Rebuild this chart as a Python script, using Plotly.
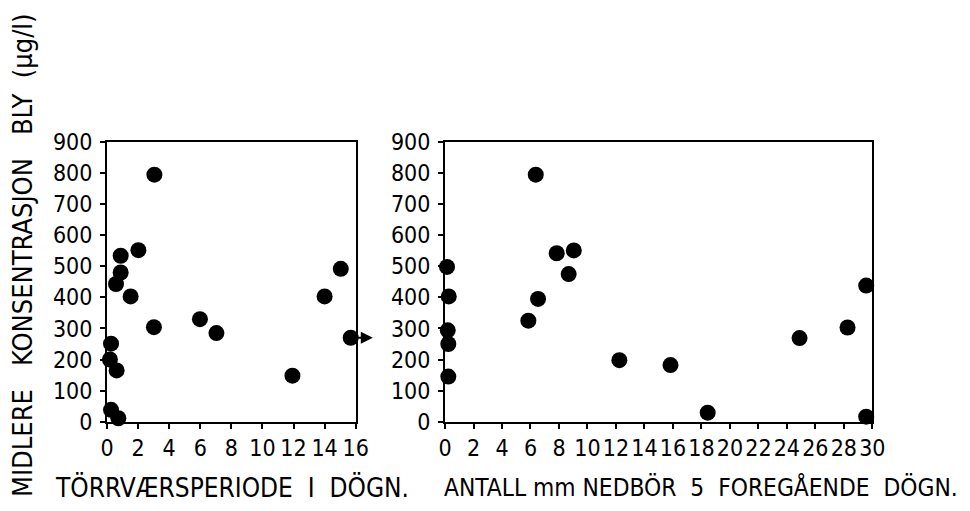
import plotly.graph_objects as go

# Left panel: dry-weather period (days) vs mean lead concentration (µg/l)
dry_days = [3.05, 2.02, 0.88, 0.88, 0.58, 1.52, 3.02, 0.26, 0.19, 0.62, 0.26, 0.73,
            5.98, 7.04, 11.93, 14.0, 15.04, 15.68]
dry_lead = [795, 552, 534, 480, 443, 403, 304, 251, 200, 165, 38, 11,
            330, 285, 148, 403, 492, 270]

# Right panel: mm precipitation previous 5 days vs mean lead concentration
rain_mm = [6.37, 7.84, 9.04, 8.68, 6.53, 5.85, 0.14, 0.26, 0.19, 0.23, 0.23,
           12.24, 15.83, 18.44, 24.89, 28.26, 29.57, 29.57]
rain_lead = [795, 542, 551, 475, 395, 325, 498, 403, 294, 250, 145,
             198, 182, 29, 269, 303, 438, 16]

x1_ticks = list(range(0, 17, 2))
x2_ticks = list(range(0, 31, 2))
y_ticks = list(range(0, 901, 100))

y_title = "MIDLERE   KONSENTRASJON   BLY  (µg/l)"
x1_title = "TÖRRVÆRSPERIODE  I  DÖGN."
x2_title = "ANTALL mm NEDBÖR  5  FOREGÅENDE  DÖGN."

FONT = "DejaVu Sans Condensed, Liberation Sans Narrow, Liberation Sans, sans-serif"

fig = go.Figure()
fig.add_trace(go.Scatter(x=dry_days, y=dry_lead, mode="markers", xaxis="x", yaxis="y",
                         marker=dict(color="black", size=16), cliponaxis=False,
                         showlegend=False))
fig.add_trace(go.Scatter(x=rain_mm, y=rain_lead, mode="markers", xaxis="x2", yaxis="y2",
                         marker=dict(color="black", size=16), cliponaxis=False,
                         showlegend=False))

axis_common = dict(showgrid=False, zeroline=False, showline=True, linecolor="black",
                   linewidth=2, mirror=True, ticks="outside", ticklen=5, tickwidth=1.5,
                   tickcolor="black", tickfont=dict(size=23, color="black", family=FONT),
                   automargin=False)

fig.update_layout(
    width=970, height=511,
    margin=dict(l=0, r=0, t=0, b=0, autoexpand=False),
    paper_bgcolor="white", plot_bgcolor="white",
    font=dict(family=FONT, color="black"),
    xaxis=dict(domain=[0.1103, 0.3667], range=[0, 16], tickvals=x1_ticks, anchor="y",
               **axis_common),
    yaxis=dict(domain=[0.1748, 0.7221], range=[0, 900], tickvals=y_ticks, anchor="x",
               ticklabelstandoff=3, **axis_common),
    xaxis2=dict(domain=[0.4588, 0.8993], range=[0, 30], tickvals=x2_ticks, anchor="y2",
                **axis_common),
    yaxis2=dict(domain=[0.1748, 0.7221], range=[0, 900], tickvals=y_ticks, anchor="x2",
                ticklabelstandoff=3, **axis_common),
    annotations=[
        dict(text=y_title, xref="paper", yref="paper", x=22 / 970, y=1 - 255 / 511,
             xanchor="center", yanchor="middle",
             textangle=-90, showarrow=False, font=dict(size=27, color="black", family=FONT)),
        dict(text=x1_title, xref="paper", yref="paper", x=53 / 970, y=1 - 487 / 511,
             xanchor="left", yanchor="middle", showarrow=False,
             font=dict(size=26, color="black", family=FONT)),
        dict(text=x2_title, xref="paper", yref="paper", x=442 / 970, y=1 - 487 / 511,
             xanchor="left", yanchor="middle", showarrow=False,
             font=dict(size=24.3, color="black", family=FONT)),
        dict(text="", xref="x", yref="y", axref="x", ayref="y",
             x=17.1, y=dry_lead[-1], ax=dry_days[-1], ay=dry_lead[-1],
             showarrow=True, arrowhead=2, arrowsize=1.2, arrowwidth=2, arrowcolor="black"),
    ],
)

fig.write_html("out.html", config={"displayModeBar": False},
               post_script="document.body.style.margin='0';document.body.style.overflow='hidden';")
